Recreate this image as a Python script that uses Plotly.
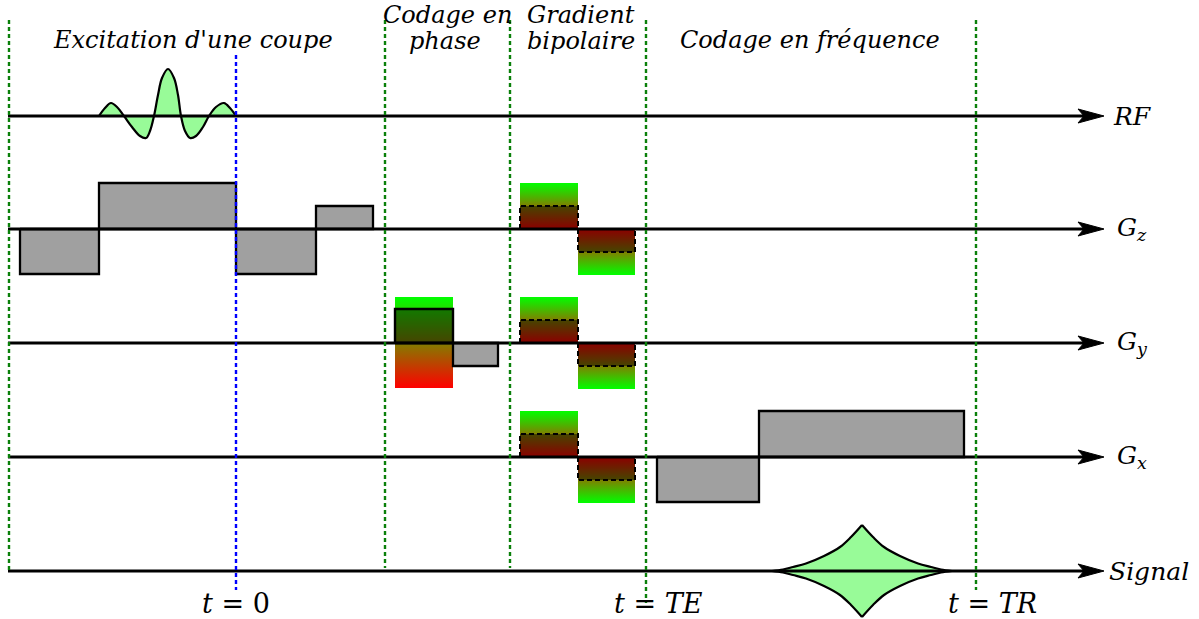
import plotly.graph_objects as go

W, H = 1199, 619

# ---------------- data ----------------
channels = ["RF", "Gz", "Gy", "Gx", "Signal"]
channel_labels = ["<i>RF</i>", "<i>G<sub>z</sub></i>", "<i>G<sub>y</sub></i>",
                  "<i>G<sub>x</sub></i>", "<i>Signal</i>"]
label_x = [1111, 1115, 1115, 1115, 1107]
baselines = [116, 229, 343, 457, 571]
axis_start = 8
axis_tip = 1104

# RF excitation pulse: time, amplitude
rf_t = [99, 105, 111, 117, 124, 132, 140, 146, 150, 154, 158, 162, 168,
        174, 178, 181, 185, 190, 196, 203, 209, 216, 224, 230, 236]
rf_amp = [0, 8, 13, 9, 0, -11, -20, -22, -15, 0, 21, 38, 47,
          38, 21, 0, -15, -22, -20, -11, 0, 9, 13, 8, 0]

# plain (gray) gradient lobes: edges and amplitudes
gz_edges = [20, 99, 236, 316, 373]
gz_amps = [-45, 46, -45, 23]
gy_edges = [453, 498]
gy_amps = [-23]
gx_edges = [657, 759, 964]
gx_amps = [-45, 46]

# phase-encoding table on Gy
phase_edges = [395, 453]
phase_range = [46, -45]      # green end, red end
phase_step = 34

# bipolar gradient (same on Gz, Gy, Gx)
bip_edges = [520, 578, 635]
bip_amps = [46, -46]
bip_steps = [23, -23]

# echo signal: offset from centre, amplitude
echo_centre = 862
echo_d = [0, 11, 22, 38, 56, 69, 79, 90]
echo_amp = [46, 34, 24, 15, 7.5, 4, 1.5, 0]

# timing markers
green_x = [9, 385, 510, 646, 976]
green_top = 20
green_bottom = [570, 568, 568, 603, 590]
t0_x = 236
t0_span = [55, 590]

# texts
header_lines = [("<i>Excitation d'une coupe</i>", 193, 40),
                ("<i>Codage en</i>", 447, 15), ("<i>phase</i>", 445, 41),
                ("<i>Gradient</i>", 581, 15), ("<i>bipolaire</i>", 581, 41),
                ("<i>Codage en fréquence</i>", 810, 40)]
bottom_labels = ["<i>t</i> = 0", "<i>t</i> = <i>TE</i>", "<i>t</i> = <i>TR</i>"]
bottom_x = [236, 658, 992]
bottom_y = 603

FONT = "DejaVu Serif"
GRAY = "#a0a0a0"
GREEN_FILL = "#98fb98"

fig = go.Figure()


def box(x0, x1, b, a):
    return [x0, x0, x1, x1, x0], [b, b - a, b - a, b, b]


# ---------- gradient-colored boxes ----------
def grad_box(x0, x1, y_green, y_red):
    xs = [x0, x0, x1, x1, x0]
    ys = [y_green, y_red, y_red, y_green, y_green]
    lo, hi = min(y_green, y_red), max(y_green, y_red)
    if y_green < y_red:
        cs = [[0, "#00ff00"], [1, "#ff0000"]]
    else:
        cs = [[0, "#ff0000"], [1, "#00ff00"]]
    fig.add_trace(go.Scatter(x=xs, y=ys, mode="none", fill="toself",
                             fillgradient=dict(type="vertical", colorscale=cs,
                                               start=lo, stop=hi),
                             hoverinfo="skip", showlegend=False))


def overlay(x0, x1, ya, yb, dash):
    fig.add_trace(go.Scatter(x=[x0, x0, x1, x1, x0], y=[ya, yb, yb, ya, ya],
                             mode="lines", fill="toself",
                             fillcolor="rgba(0,0,0,0.45)",
                             line=dict(color="black", width=2.4 if dash == "solid" else 2,
                                       dash=dash),
                             hoverinfo="skip", showlegend=False))


# phase table on Gy
bGy = baselines[2]
grad_box(phase_edges[0], phase_edges[1], bGy - phase_range[0], bGy - phase_range[1])
# bipolar on Gz, Gy, Gx
for b in baselines[1:4]:
    for i, a in enumerate(bip_amps):
        x0, x1 = bip_edges[i], bip_edges[i + 1]
        grad_box(x0, x1, b - a, b)
for b in baselines[1:4]:
    for i, s in enumerate(bip_steps):
        x0, x1 = bip_edges[i], bip_edges[i + 1]
        overlay(x0, x1, b, b - s, "5px,3px")
overlay(phase_edges[0], phase_edges[1], bGy, bGy - phase_step, "solid")

# ---------- gray lobes ----------
for edges, amps, b in [(gz_edges, gz_amps, baselines[1]),
                       (gy_edges, gy_amps, baselines[2]),
                       (gx_edges, gx_amps, baselines[3])]:
    for i, a in enumerate(amps):
        xs, ys = box(edges[i], edges[i + 1], b, a)
        fig.add_trace(go.Scatter(x=xs, y=ys, mode="lines", fill="toself",
                                 fillcolor=GRAY, line=dict(color="black", width=2.3),
                                 hoverinfo="skip", showlegend=False))

# ---------- RF pulse ----------
bRF = baselines[0]
fig.add_trace(go.Scatter(x=rf_t, y=[bRF - a for a in rf_amp], mode="lines",
                         fill="toself", fillcolor=GREEN_FILL,
                         line=dict(color="black", width=2.2, shape="spline"),
                         hoverinfo="skip", showlegend=False))

# ---------- echo ----------
bS = baselines[4]
left_x = [echo_centre - d for d in echo_d]
right_x = [echo_centre + d for d in echo_d]
up = [bS - a for a in echo_amp]
dn = [bS + a for a in echo_amp]
fx = left_x[::-1] + right_x[1:] + right_x[::-1][1:] + left_x[1:]
fy = up[::-1] + up[1:] + dn[::-1][1:] + dn[1:]
fig.add_trace(go.Scatter(x=fx, y=fy, mode="none", fill="toself",
                         fillcolor=GREEN_FILL, hoverinfo="skip", showlegend=False))
ox, oy = [], []
for xs, ys in [(left_x, up), (right_x, up), (left_x, dn), (right_x, dn)]:
    ox += list(xs) + [None]
    oy += list(ys) + [None]
fig.add_trace(go.Scatter(x=ox, y=oy, mode="lines",
                         line=dict(color="black", width=2.2, shape="spline"),
                         hoverinfo="skip", showlegend=False))

# ---------- time axes with arrowheads ----------
ax_x, ax_y = [], []
for b in baselines:
    ax_x += [axis_start, axis_tip - 14, None]
    ax_y += [b, b, None]
fig.add_trace(go.Scatter(x=ax_x, y=ax_y, mode="lines",
                         line=dict(color="black", width=3),
                         hoverinfo="skip", showlegend=False))
hx, hy = [], []
for b in baselines:
    hx += [axis_tip, axis_tip - 26, axis_tip - 20, axis_tip - 26, axis_tip, None]
    hy += [b, b - 7, b, b + 7, b, None]
fig.add_trace(go.Scatter(x=hx, y=hy, mode="lines", fill="toself",
                         fillcolor="black", line=dict(color="black", width=1),
                         hoverinfo="skip", showlegend=False))

# ---------- dotted markers ----------
gx_, gy_ = [], []
for x, yb in zip(green_x, green_bottom):
    gx_ += [x, x, None]
    gy_ += [green_top, yb, None]
fig.add_trace(go.Scatter(x=gx_, y=gy_, mode="lines",
                         line=dict(color="#0a800a", width=2.4, dash="4px,3px"),
                         hoverinfo="skip", showlegend=False))
fig.add_trace(go.Scatter(x=[t0_x, t0_x], y=t0_span, mode="lines",
                         line=dict(color="#0000ff", width=2.4, dash="4px,3px"),
                         hoverinfo="skip", showlegend=False))

# ---------- texts ----------
ann = []
for txt, x, y in header_lines:
    ann.append(dict(x=x, y=y, text=txt, showarrow=False, xanchor="center",
                    yanchor="middle", font=dict(family=FONT, size=24, color="black")))
for lab, b, lx in zip(channel_labels, baselines, label_x):
    ann.append(dict(x=lx, y=b, text=lab, showarrow=False, xanchor="left",
                    yanchor="middle", font=dict(family=FONT, size=25, color="black")))
for lab, x in zip(bottom_labels, bottom_x):
    ann.append(dict(x=x, y=bottom_y, text=lab, showarrow=False, xanchor="center",
                    yanchor="middle", font=dict(family=FONT, size=27, color="black")))

fig.update_layout(
    width=W, height=H, margin=dict(l=0, r=0, t=0, b=0),
    paper_bgcolor="white", plot_bgcolor="white",
    xaxis=dict(range=[0, W], visible=False, fixedrange=True),
    yaxis=dict(range=[H, 0], visible=False, fixedrange=True),
    annotations=ann, showlegend=False,
)
fig.write_html("out.html", config={"displayModeBar": False, "staticPlot": True},
               post_script="document.body.style.margin='0';"
                           "document.body.style.overflow='hidden';")
